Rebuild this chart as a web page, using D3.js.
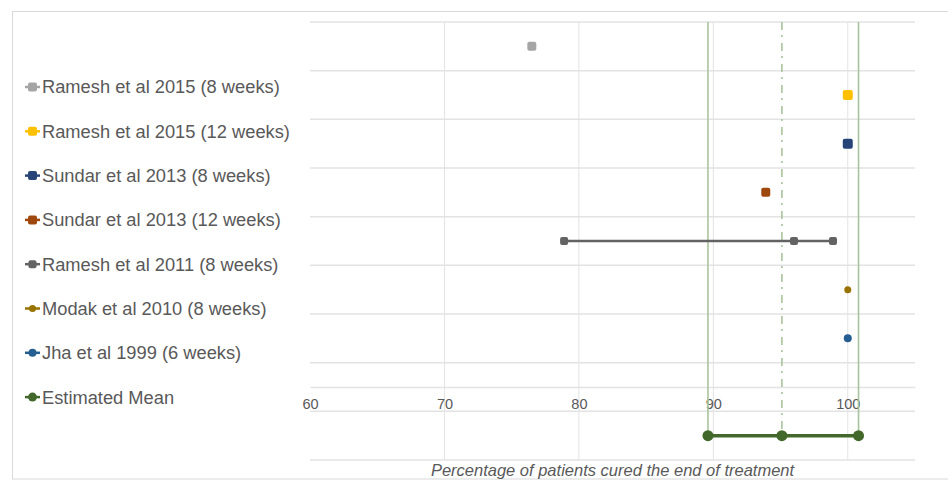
<!DOCTYPE html>
<html>
<head>
<meta charset="utf-8">
<script src="https://cdn.jsdelivr.net/npm/d3@7"></script>
<style>
  body { margin: 0; background: #fff; }
  text { font-family: "Liberation Sans", Arial, sans-serif; }
</style>
</head>
<body>
<svg class="main"></svg>
<script>
var width = 948,
    height = 481;

// data
var studies = [
    'Ramesh et al 2015 (8 weeks)',
    'Ramesh et al 2015 (12 weeks)',
    'Sundar et al 2013 (8 weeks)',
    'Sundar et al 2013 (12 weeks)',
    'Ramesh et al 2011 (8 weeks)',
    'Modak et al 2010 (8 weeks)',
    'Jha et al 1999 (6 weeks)',
    'Estimated Mean'
];
var cureRates = [
    [76.5],
    [100],
    [100],
    [93.9],
    [78.9, 96.0, 98.9],
    [100],
    [100],
    [89.6, 95.1, 100.8]
];
var rowValues = [8.5, 7.5, 6.5, 5.5, 4.5, 3.5, 2.5, 0.5];
var xTicks = [60, 70, 80, 90, 100];
var yGrid = [0, 1, 2, 3, 4, 5, 6, 7, 8, 9];
var axisTitle = 'Percentage of patients cured the end of treatment';

// styles
var colors = ['#a5a5a5', '#ffc000', '#264478', '#9e480e', '#636363', '#997300', '#255e91', '#43682b'],
    markerSize = [9, 10, 10, 9, 8, 7, 8, 11],
    markerShape = ['sq', 'sq', 'sq', 'sq', 'sq', 'ci', 'ci', 'ci'],
    gridColor = '#e3e3e3',
    textColor = '#595959',
    boundColor = '#a9c49c';

var svg = d3.select('.main')
    .attr('width', width)
    .attr('height', height);

// outer frame
svg.append('rect')
    .attr('x', 12.5)
    .attr('y', 11.5)
    .attr('width', 960)
    .attr('height', 467.5)
    .attr('fill', 'none')
    .attr('stroke', '#d9d9d9');

var x = d3.scaleLinear()
    .domain([60, 105])
    .range([310, 915]);

var y = d3.scaleLinear()
    .domain([0, 9])
    .range([460, 22]);

// horizontal grid
svg.append('g')
    .selectAll('line')
    .data(yGrid)
    .enter().append('line')
    .attr('x1', x(60))
    .attr('x2', x(105))
    .attr('y1', d => y(d))
    .attr('y2', d => y(d))
    .attr('stroke', gridColor)
    .attr('stroke-width', 1.5);

// vertical grid
svg.append('g')
    .selectAll('line')
    .data(xTicks.slice(1))
    .enter().append('line')
    .attr('x1', d => x(d))
    .attr('x2', d => x(d))
    .attr('y1', y(9))
    .attr('y2', y(0))
    .attr('stroke', gridColor)
    .attr('stroke-width', 1);

// x axis crossing at 1.5
var xAxis = d3.axisBottom(x)
    .tickValues(xTicks)
    .tickSize(0)
    .tickPadding(12);

var gX = svg.append('g')
    .attr('transform', `translate(0,${y(1.5)})`)
    .call(xAxis);

gX.select('.domain')
    .attr('stroke', gridColor)
    .attr('stroke-width', 1.5);

gX.selectAll('text')
    .attr('fill', textColor)
    .style('font-size', '14.5px')
    .style('font-family', '"Liberation Sans", Arial, sans-serif');

// mean bounds (vertical lines)
var mean = cureRates[7];
var meanRow = rowValues[7];

svg.append('g')
    .selectAll('line')
    .data([mean[0], mean[2]])
    .enter().append('line')
    .attr('x1', d => x(d))
    .attr('x2', d => x(d))
    .attr('y1', y(9))
    .attr('y2', y(meanRow))
    .attr('stroke', boundColor)
    .attr('stroke-width', 1.6);

svg.append('line')
    .attr('x1', x(mean[1]))
    .attr('x2', x(mean[1]))
    .attr('y1', y(9))
    .attr('y2', y(meanRow))
    .attr('stroke', boundColor)
    .attr('stroke-width', 1.6)
    .attr('stroke-dasharray', '8,5,2,6');

// series lines
var line = d3.line()
    .x(d => x(d.v))
    .y(d => y(d.r));

cureRates.forEach(function(vals, i) {
    if (vals.length < 2) return;
    svg.append('path')
        .datum(vals.map(v => ({ v: v, r: rowValues[i] })))
        .attr('d', line)
        .attr('fill', 'none')
        .attr('stroke', colors[i])
        .attr('stroke-width', i == 7 ? 3.5 : 2.5);
});

// markers
function drawMarker(g, shape, size, color) {
    if (shape == 'sq') {
        g.append('rect')
            .attr('x', -size / 2)
            .attr('y', -size / 2)
            .attr('width', size)
            .attr('height', size)
            .attr('rx', 2)
            .attr('fill', color);
    } else {
        g.append('circle')
            .attr('r', size / 2)
            .attr('fill', color);
    }
}

cureRates.forEach(function(vals, i) {
    vals.forEach(function(v) {
        var g = svg.append('g')
            .attr('transform', `translate(${x(v)},${y(rowValues[i])})`);
        drawMarker(g, markerShape[i], markerSize[i], colors[i]);
    });
});

// axis title
svg.append('text')
    .attr('x', (x(60) + x(105)) / 2)
    .attr('y', 476)
    .attr('text-anchor', 'middle')
    .attr('fill', textColor)
    .style('font-size', '16.5px')
    .style('font-style', 'italic')
    .text(axisTitle);

// legend
var legend = svg.append('g')
    .selectAll('g')
    .data(studies)
    .enter().append('g')
    .attr('transform', (d, i) => `translate(25,${87 + i * 44.3})`);

legend.append('line')
    .attr('x1', 0)
    .attr('x2', 15)
    .attr('stroke', (d, i) => colors[i])
    .attr('stroke-width', 2.5);

legend.each(function(d, i) {
    var g = d3.select(this).append('g')
        .attr('transform', 'translate(7.5,0)');
    drawMarker(g, markerShape[i], Math.min(markerSize[i], 9), colors[i]);
});

legend.append('text')
    .attr('x', 17)
    .attr('dy', '0.35em')
    .attr('fill', textColor)
    .style('font-size', '18.3px')
    .text(d => d);
</script>
</body>
</html>
